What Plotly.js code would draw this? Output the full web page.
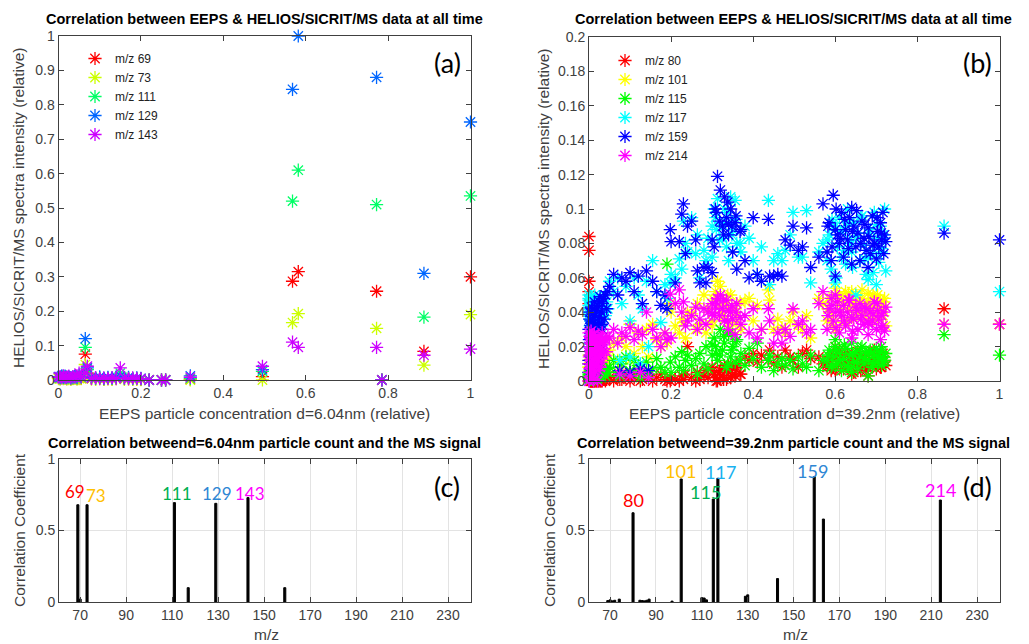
<!DOCTYPE html>
<html>
<head>
<meta charset="utf-8">
<script src="https://cdn.plot.ly/plotly-3.0.1.min.js"></script>
<style>html,body{margin:0;padding:0;background:#fff;}#chart{width:1029px;height:644px;}</style>
</head>
<body>
<div id="chart"></div>
<script>
// ---------------- Panel (a): d = 6.04 nm ----------------
const namesA = ['m/z 69', 'm/z 73', 'm/z 111', 'm/z 129', 'm/z 143'];
const xA = [0, 0.004, 0.008, 0.012, 0.016, 0.02, 0.025, 0.03, 0.035, 0.04, 0.045, 0.05, 0.055, 0.065, 0.07,
            0.08, 0.09, 0.1, 0.11, 0.12, 0.13, 0.14, 0.15, 0.16, 0.17, 0.18, 0.19, 0.2,
            0.22, 0.25, 0.26, 0.32, 0.495, 0.568, 0.582, 0.772, 0.785, 0.887, 1.0];
const mz69  = [0.006, 0.004, 0.008, 0.005, 0.007, 0.004, 0.006, 0.003, 0.005, 0.007, 0.004, 0.006, 0.005, 0.075, 0.02,
               0.004, 0.003, 0.005, 0.002, 0.004, 0.003, 0.005, 0.01, 0.003, 0.004, 0.002, 0.003, 0.002,
               0.0, 0.0, 0.0, 0.002, 0.01, 0.287, 0.315, 0.258, 0.0, 0.083, 0.3];
const mz73  = [0.004, 0.003, 0.006, 0.004, 0.005, 0.003, 0.004, 0.002, 0.004, 0.005, 0.003, 0.004, 0.004, 0.045, 0.015,
               0.003, 0.002, 0.004, 0.002, 0.003, 0.002, 0.004, 0.008, 0.002, 0.003, 0.002, 0.002, 0.001,
               0.0, 0.0, 0.0, 0.0, 0.0, 0.167, 0.193, 0.15, 0.0, 0.043, 0.19];
const mz111 = [0.008, 0.006, 0.01, 0.007, 0.009, 0.006, 0.008, 0.005, 0.007, 0.009, 0.006, 0.012, 0.008, 0.095, 0.03,
               0.006, 0.005, 0.007, 0.004, 0.006, 0.005, 0.007, 0.02, 0.005, 0.006, 0.004, 0.005, 0.004,
               0.0, 0.0, 0.0, 0.005, 0.025, 0.52, 0.61, 0.51, 0.0, 0.183, 0.535];
const mz129 = [0.01, 0.008, 0.012, 0.009, 0.011, 0.008, 0.01, 0.007, 0.009, 0.011, 0.008, 0.015, 0.01, 0.12, 0.035,
               0.008, 0.006, 0.009, 0.005, 0.008, 0.006, 0.009, 0.012, 0.006, 0.008, 0.005, 0.006, 0.005,
               0.0, 0.0, 0.0, 0.012, 0.03, 0.845, 1.0, 0.88, 0.0, 0.31, 0.75];
const mz143 = [0.008, 0.01, 0.006, 0.012, 0.007, 0.009, 0.011, 0.006, 0.01, 0.008, 0.012, 0.02, 0.009, 0.02, 0.04,
               0.005, 0.007, 0.004, 0.006, 0.005, 0.007, 0.004, 0.035, 0.006, 0.004, 0.006, 0.005, 0.004,
               0.0, 0.0, 0.0, 0.008, 0.04, 0.11, 0.095, 0.095, 0.0, 0.072, 0.09];
const seriesA = [mz69, mz73, mz111, mz129, mz143];
const colorsA = ['#ff0000', '#ccff00', '#00ff66', '#0066ff', '#cc00ff'];

// ---------------- Panel (b): d = 39.2 nm ----------------
const namesB = ['m/z 80', 'm/z 101', 'm/z 115', 'm/z 117', 'm/z 159', 'm/z 214'];
const xB = [
  0, 0, 0, 0, 0.002, 0.003, 0.004, 0.005, 0.006, 0.007, 0.008, 0.009, 0.01, 0.012, 0.014, 0.015, 0.017, 0.019, 0.02, 0.022,
  0.024, 0.026, 0.028, 0.03, 0.032, 0.035, 0.037, 0.04, 0.043, 0.046,
  0, 0.001, 0.002, 0.003, 0.004, 0.005, 0.006, 0.007, 0.008, 0.009, 0.01, 0.011, 0.012, 0.013, 0.014, 0.016, 0.018, 0.021,
  0.023, 0.025, 0.027, 0.029, 0.031, 0.033,
  0.05, 0.06, 0.07, 0.08, 0.09, 0.1, 0.11, 0.12, 0.13, 0.14, 0.155, 0.165, 0.175, 0.185, 0.19,
  0.075, 0.1, 0.125, 0.145,
  0.198, 0.2, 0.21, 0.22, 0.226, 0.23, 0.235, 0.24, 0.25, 0.26, 0.264, 0.27, 0.28, 0.285, 0.29, 0.3, 0.305, 0.313, 0.32,
  0.325, 0.33, 0.335, 0.34, 0.345, 0.35, 0.356, 0.36, 0.37, 0.38, 0.39, 0.4, 0.41, 0.42, 0.437, 0.44, 0.45, 0.46, 0.47,
  0.308, 0.318, 0.328, 0.338, 0.348, 0.358, 0.368, 0.3, 0.31, 0.34,
  0.478, 0.49, 0.497, 0.51, 0.52, 0.53, 0.54, 0.56, 0.57,
  0.58, 0.585, 0.59, 0.595, 0.6, 0.605, 0.61, 0.615, 0.62, 0.625, 0.63, 0.635, 0.64, 0.645, 0.65, 0.655, 0.66, 0.665,
  0.67, 0.675, 0.68, 0.685, 0.69, 0.695, 0.7, 0.703, 0.706, 0.71, 0.713, 0.716, 0.72, 0.723, 0.6, 0.64, 0.68,
  0.582, 0.592, 0.602, 0.612, 0.622, 0.632, 0.642, 0.652, 0.662, 0.672, 0.682, 0.692, 0.702, 0.712, 0.718,
  0.865, 1.0];
const mz80 = [
  0.084, 0.076, 0.058, 0.052, 0.001, 0, 0.002, 0, 0.001, 0, 0.002, 0, 0, 0.001, 0, 0.002, 0, 0.001, 0, 0.002,
  0, 0.001, 0, 0.003, 0, 0.001, 0.002, 0, 0.001, 0.003,
  0.045, 0.002, 0, 0.001, 0, 0.002, 0, 0.001, 0, 0.002, 0, 0.001, 0, 0.002, 0, 0.001, 0, 0.002,
  0, 0.001, 0, 0.002, 0, 0.001,
  0.002, 0, 0.003, 0.001, 0.004, 0, 0.002, 0.005, 0.001, 0.003, 0, 0.002, 0.004, 0.001, 0,
  0.001, 0.002, 0, 0.003,
  0, 0.002, 0.001, 0, 0.003, 0.001, 0.004, 0.02, 0.002, 0, 0.005, 0.001, 0.003, 0.006, 0.002, 0.008, 0.004, 0, 0.006,
  0.003, 0.009, 0.001, 0.005, 0.002, 0.007, 0.003, 0.01, 0.004, 0.014, 0.012, 0.016, 0.011, 0.015, 0.012, 0.018, 0.01, 0.014, 0.008,
  0.002, 0.005, 0.001, 0.007, 0.003, 0.008, 0.004, 0.006, 0.0, 0.009,
  0.018, 0.014, 0.012, 0.008, 0.016, 0.018, 0.013, 0.014, 0.01,
  0.008, 0.012, 0.006, 0.015, 0.006, 0.01, 0.018, 0.013, 0.007, 0.011, 0.016, 0.009, 0.014, 0.005, 0.012, 0.017, 0.008, 0.01,
  0.013, 0.006, 0.015, 0.009, 0.012, 0.018, 0.007, 0.01, 0.014, 0.008, 0.011, 0.016, 0.012, 0.009, 0.02, 0.004, 0.003,
  0.01, 0.014, 0.007, 0.012, 0.016, 0.008, 0.011, 0.015, 0.006, 0.013, 0.009, 0.017, 0.012, 0.008, 0.014,
  0.042, 0.033];
const mz101 = [
  0.01, 0.008, 0.012, 0.015, 0.005, 0.003, 0.008, 0.006, 0.01, 0.004, 0.007, 0.012, 0.006, 0.009, 0.005, 0.011, 0.007, 0.004, 0.01, 0.008,
  0.006, 0.012, 0.009, 0.005, 0.011, 0.008, 0.013, 0.01, 0.012, 0.015,
  0.008, 0.012, 0.006, 0.01, 0.014, 0.007, 0.011, 0.005, 0.013, 0.009, 0.006, 0.012, 0.008, 0.015, 0.01, 0.007, 0.013, 0.009,
  0.011, 0.006, 0.014, 0.01, 0.012, 0.016,
  0.018, 0.022, 0.012, 0.025, 0.02, 0.033, 0.016, 0.028, 0.02, 0.03, 0.033, 0.024, 0.02, 0.028, 0.022,
  0.01, 0.012, 0.008, 0.014,
  0.045, 0.04, 0.032, 0.028, 0.036, 0.034, 0.025, 0.04, 0.039, 0.03, 0.045, 0.033, 0.05, 0.028, 0.042, 0.035, 0.047, 0.058, 0.055,
  0.04, 0.036, 0.045, 0.032, 0.05, 0.028, 0.042, 0.038, 0.03, 0.046, 0.048, 0.035, 0.044, 0.03, 0.053, 0.047, 0.03, 0.036, 0.031,
  0.052, 0.044, 0.038, 0.05, 0.041, 0.034, 0.046, 0.032, 0.048, 0.043,
  0.028, 0.035, 0.04, 0.032, 0.03, 0.038, 0.025, 0.048, 0.045,
  0.035, 0.048, 0.04, 0.032, 0.054, 0.044, 0.05, 0.038, 0.046, 0.052, 0.042, 0.036, 0.048, 0.044, 0.05, 0.04, 0.046, 0.053,
  0.038, 0.044, 0.051, 0.042, 0.048, 0.036, 0.045, 0.05, 0.04, 0.047, 0.043, 0.038, 0.048, 0.032, 0.03, 0.052, 0.046,
  0.042, 0.036, 0.049, 0.04, 0.034, 0.051, 0.045, 0.037, 0.048, 0.041, 0.035, 0.05, 0.043, 0.039, 0.046,
  0.033, 0.033];
const mz115 = [
  0.003, 0.002, 0.004, 0.005, 0.001, 0.002, 0.003, 0.001, 0.004, 0.002, 0.003, 0.005, 0.002, 0.003, 0.001, 0.004, 0.002, 0.003, 0.005, 0.002,
  0.004, 0.003, 0.006, 0.002, 0.005, 0.004, 0.006, 0.003, 0.007, 0.005,
  0.002, 0.004, 0.001, 0.003, 0.005, 0.002, 0.004, 0.001, 0.003, 0.006, 0.002, 0.004, 0.003, 0.005, 0.002, 0.006, 0.003, 0.005,
  0.004, 0.007, 0.003, 0.006, 0.008, 0.005,
  0.008, 0.012, 0.005, 0.01, 0.014, 0.006, 0.012, 0.009, 0.004, 0.011, 0.007, 0.013, 0.008, 0.005, 0.068,
  0.003, 0.005, 0.002, 0.004,
  0.011, 0.005, 0.014, 0.008, 0.017, 0.006, 0.012, 0.015, 0.009, 0.013, 0.004, 0.016, 0.01, 0.02, 0.007, 0.015, 0.025, 0.012, 0.03,
  0.018, 0.022, 0.008, 0.027, 0.014, 0.02, 0.011, 0.024, 0.016, 0.009, 0.019, 0.013, 0.022, 0.008, 0.012, 0.015, 0.006, 0.01, 0.013,
  0.02, 0.015, 0.026, 0.01, 0.018, 0.023, 0.012, 0.021, 0.016, 0.028,
  0.009, 0.012, 0.007, 0.014, 0.01, 0.008, 0.015, 0.006, 0.012,
  0.012, 0.018, 0.008, 0.014, 0.02, 0.01, 0.016, 0.006, 0.013, 0.019, 0.009, 0.015, 0.022, 0.011, 0.017, 0.007, 0.014, 0.02,
  0.01, 0.016, 0.012, 0.018, 0.008, 0.015, 0.019, 0.011, 0.013, 0.017, 0.009, 0.014, 0.012, 0.016, 0.024, 0.005, 0.003,
  0.015, 0.009, 0.018, 0.012, 0.021, 0.008, 0.016, 0.011, 0.019, 0.013, 0.017, 0.01, 0.014, 0.02, 0.011,
  0.027, 0.015];
const mz117 = [
  0.05, 0.047, 0.044, 0.04, 0.036, 0.032, 0.038, 0.045, 0.03, 0.042, 0.034, 0.028, 0.04, 0.036, 0.044, 0.03, 0.038, 0.042, 0.034, 0.046,
  0.04, 0.036, 0.048, 0.032, 0.044, 0.04, 0.05, 0.038, 0.046, 0.042,
  0.048, 0.043, 0.039, 0.046, 0.035, 0.049, 0.041, 0.037, 0.045, 0.033, 0.047, 0.04, 0.036, 0.044, 0.05, 0.038, 0.042, 0.047,
  0.035, 0.043, 0.039, 0.046, 0.041, 0.037,
  0.058, 0.052, 0.06, 0.045, 0.055, 0.035, 0.06, 0.05, 0.042, 0.058, 0.07, 0.052, 0.034, 0.056, 0.048,
  0.012, 0.014, 0.01, 0.02,
  0.057, 0.062, 0.06, 0.071, 0.065, 0.093, 0.08, 0.075, 0.095, 0.074, 0.085, 0.06, 0.076, 0.07, 0.083, 0.09, 0.1, 0.106, 0.092,
  0.083, 0.1, 0.078, 0.07, 0.107, 0.088, 0.105, 0.08, 0.075, 0.09, 0.083, 0.07, 0.062, 0.078, 0.105, 0.056, 0.07, 0.074, 0.07,
  0.095, 0.082, 0.09, 0.098, 0.085, 0.094, 0.08, 0.072, 0.088, 0.092,
  0.076, 0.085, 0.098, 0.072, 0.072, 0.099, 0.057, 0.075, 0.08,
  0.07, 0.085, 0.065, 0.09, 0.057, 0.078, 0.095, 0.072, 0.088, 0.068, 0.1, 0.082, 0.075, 0.092, 0.05, 0.086, 0.07, 0.096,
  0.079, 0.062, 0.059, 0.088, 0.074, 0.098, 0.056, 0.083, 0.069, 0.09, 0.077, 0.085, 0.1, 0.064, 0.09, 0.08, 0.072,
  0.082, 0.094, 0.06, 0.087, 0.076, 0.092, 0.066, 0.084, 0.095, 0.071, 0.086, 0.063, 0.091, 0.075, 0.083,
  0.09, 0.052];
const mz159 = [
  0.03, 0.02, 0.01, 0.005, 0.04, 0.015, 0.025, 0.035, 0.008, 0.028, 0.018, 0.042, 0.012, 0.032, 0.022, 0.038, 0.006, 0.026, 0.044, 0.016,
  0.034, 0.046, 0.02, 0.04, 0.03, 0.048, 0.036, 0.05, 0.042, 0.052,
  0.012, 0.024, 0.036, 0.007, 0.019, 0.031, 0.043, 0.014, 0.027, 0.039, 0.009, 0.022, 0.034, 0.046, 0.017, 0.029, 0.041, 0.011,
  0.024, 0.037, 0.049, 0.021, 0.033, 0.045,
  0.055, 0.062, 0.05, 0.06, 0.058, 0.063, 0.052, 0.061, 0.045, 0.064, 0.058, 0.052, 0.044, 0.05, 0.042,
  0.006, 0.005, 0.007, 0.006,
  0.088, 0.081, 0.057, 0.081, 0.097, 0.103, 0.074, 0.09, 0.093, 0.082, 0.064, 0.057, 0.066, 0.057, 0.066, 0.063, 0.078, 0.119, 0.111,
  0.09, 0.107, 0.095, 0.085, 0.1, 0.075, 0.092, 0.065, 0.088, 0.07, 0.06, 0.095, 0.062, 0.058, 0.094, 0.061, 0.061, 0.062, 0.061,
  0.1, 0.093, 0.085, 0.104, 0.09, 0.096, 0.087, 0.082, 0.098, 0.091,
  0.082, 0.079, 0.09, 0.076, 0.078, 0.089, 0.066, 0.072, 0.103,
  0.075, 0.092, 0.07, 0.108, 0.061, 0.085, 0.08, 0.098, 0.072, 0.088, 0.082, 0.095, 0.068, 0.09, 0.078, 0.086, 0.07, 0.093,
  0.083, 0.076, 0.089, 0.074, 0.096, 0.08, 0.071, 0.087, 0.078, 0.092, 0.082, 0.098, 0.085, 0.081, 0.088, 0.101, 0.066,
  0.09, 0.078, 0.1, 0.083, 0.094, 0.077, 0.087, 0.099, 0.08, 0.091, 0.084, 0.079, 0.095, 0.086, 0.074,
  0.086, 0.082];
const mz214 = [
  0.0, 0.01, 0.02, 0.028, 0.005, 0.015, 0.025, 0.002, 0.018, 0.008, 0.022, 0.012, 0.027, 0.004, 0.016, 0.024, 0.009, 0.02, 0.013, 0.026,
  0.006, 0.018, 0.023, 0.011, 0.028, 0.015, 0.021, 0.024, 0.017, 0.026,
  0.0, 0.014, 0.026, 0.007, 0.019, 0.029, 0.003, 0.016, 0.024, 0.01, 0.021, 0.0, 0.013, 0.027, 0.006, 0.018, 0.023, 0.0,
  0.012, 0.025, 0.008, 0.019, 0.015, 0.022,
  0.025, 0.03, 0.022, 0.028, 0.026, 0.031, 0.024, 0.029, 0.027, 0.04, 0.03, 0.025, 0.02, 0.028, 0.024,
  0.004, 0.003, 0.005, 0.002,
  0.0505, 0.025, 0.045, 0.053, 0.04, 0.046, 0.032, 0.035, 0.038, 0.043, 0.03, 0.036, 0.042, 0.033, 0.04, 0.045, 0.038, 0.048, 0.05,
  0.042, 0.035, 0.047, 0.03, 0.04, 0.036, 0.027, 0.045, 0.033, 0.038, 0.028, 0.042, 0.025, 0.03, 0.042, 0.035, 0.022, 0.028, 0.022,
  0.043, 0.038, 0.047, 0.035, 0.044, 0.04, 0.037, 0.039, 0.046, 0.041,
  0.03, 0.026, 0.042, 0.033, 0.035, 0.028, 0.03, 0.045, 0.052,
  0.03, 0.042, 0.048, 0.035, 0.04, 0.046, 0.028, 0.038, 0.044, 0.032, 0.04, 0.047, 0.025, 0.036, 0.043, 0.03, 0.045, 0.038,
  0.033, 0.042, 0.027, 0.04, 0.035, 0.046, 0.03, 0.041, 0.036, 0.024, 0.038, 0.032, 0.029, 0.043, 0.05, 0.037, 0.034,
  0.038, 0.044, 0.031, 0.04, 0.035, 0.047, 0.029, 0.041, 0.036, 0.043, 0.033, 0.039, 0.045, 0.031, 0.04,
  0.033, 0.033];
const seriesB = [mz80, mz101, mz115, mz117, mz159, mz214];
const colorsB = ['#ff0000', '#ffff00', '#00ff00', '#00ffff', '#0000ff', '#ff00ff'];

// ---------------- Panel (c): correlation d = 6.04 nm ----------------
const mzC   = [69, 70, 73, 111, 117, 129, 143, 159];
const corrC = [0.68, 0.02, 0.68, 0.695, 0.1, 0.69, 0.73, 0.1];
const labelsC = ['69', '73', '111', '129', '143'];
const labelPosC = [[67.6, 0.775], [77.0, 0.745], [112, 0.76], [129.5, 0.76], [143.9, 0.76]];
const labelColC = ['#ff0000', '#ffc000', '#00b050', '#2e86d4', '#ff00ff'];

// ---------------- Panel (d): correlation d = 39.2 nm ----------------
const mzD   = [69, 70, 71, 72, 74, 80, 83, 84, 85, 86, 87, 97, 101, 110, 111, 112, 115, 117, 129, 130, 143, 159, 163, 214];
const corrD = [0.01, 0.015, 0.008, 0.012, 0.02, 0.624, 0.012, 0.01, 0.008, 0.012, 0.02, 0.006, 0.86, 0.03, 0.028, 0.015,
               0.72, 0.865, 0.04, 0.05, 0.164, 0.876, 0.58, 0.713];
const labelsD = ['80', '101', '115', '117', '159', '214'];
const labelPosD = [[80.4, 0.71], [100.9, 0.915], [111.8, 0.77], [118.3, 0.91], [158.1, 0.915], [213.9, 0.78]];
const labelColD = ['#ff0000', '#ffc000', '#00b050', '#1ab2f0', '#2e86d4', '#ff00ff'];

// ---------------- helpers ----------------
const W = 1029, H = 644;
const px = v => v / W;
const py = v => 1 - v / H;
const TXT = '#404040';
const FONT = 'Liberation Sans, Arial, sans-serif';

const traces = [];
seriesA.forEach((ys, i) => traces.push({
  type: 'scatter', mode: 'markers', x: xA, y: ys, name: namesA[i], xaxis: 'x', yaxis: 'y', legend: 'legend',
  cliponaxis: false,
  marker: {symbol: 'asterisk-open', size: 11, color: colorsA[i], line: {color: colorsA[i], width: 1.3}}
}));
seriesB.forEach((ys, i) => traces.push({
  type: 'scatter', mode: 'markers', x: xB, y: ys, name: namesB[i], xaxis: 'x2', yaxis: 'y2', legend: 'legend2',
  cliponaxis: false,
  marker: {symbol: 'asterisk-open', size: 11, color: colorsB[i], line: {color: colorsB[i], width: 1.3}}
}));
traces.push({type: 'bar', x: mzC, y: corrC, xaxis: 'x3', yaxis: 'y3', showlegend: false, width: 0.9,
  marker: {color: '#000', line: {color: '#000', width: 1}}});
traces.push({type: 'bar', x: mzD, y: corrD, xaxis: 'x4', yaxis: 'y4', showlegend: false, width: 0.9,
  marker: {color: '#000', line: {color: '#000', width: 1}}});

function axisBase(extra) {
  return Object.assign({
    showline: true, linecolor: '#404040', linewidth: 1, mirror: 'ticks', ticks: 'inside', ticklen: 5,
    tickcolor: '#404040', zeroline: false, showgrid: false,
    tickfont: {family: FONT, size: 14, color: TXT}, fixedrange: true
  }, extra);
}

const layout = {
  width: W, height: H, margin: {l: 0, r: 0, t: 0, b: 0},
  paper_bgcolor: '#fff', plot_bgcolor: '#fff', showlegend: true, bargap: 0,
  xaxis:  axisBase({domain: [px(58.5), px(470.5)], range: [0, 1], dtick: 0.2, tick0: 0, anchor: 'y'}),
  yaxis:  axisBase({domain: [py(380), py(36)], range: [0, 1], dtick: 0.1, tick0: 0, anchor: 'x'}),
  xaxis2: axisBase({domain: [px(589), px(999.5)], range: [0, 1], dtick: 0.2, tick0: 0, anchor: 'y2'}),
  yaxis2: axisBase({domain: [py(381), py(37)], range: [0, 0.2], dtick: 0.02, tick0: 0, anchor: 'x2'}),
  xaxis3: axisBase({domain: [px(59), px(471)], range: [60.8, 240], dtick: 20, tick0: 70, anchor: 'y3',
                    showgrid: true, gridcolor: '#e3e3e3'}),
  yaxis3: axisBase({domain: [py(602), py(459)], range: [0, 1], dtick: 0.5, tick0: 0, anchor: 'x3',
                    showgrid: true, gridcolor: '#e3e3e3'}),
  xaxis4: axisBase({domain: [px(589), px(1000)], range: [60.8, 240], dtick: 20, tick0: 70, anchor: 'y4',
                    showgrid: true, gridcolor: '#e3e3e3'}),
  yaxis4: axisBase({domain: [py(602), py(459)], range: [0, 1], dtick: 0.5, tick0: 0, anchor: 'x4',
                    showgrid: true, gridcolor: '#e3e3e3'}),
  legend:  {x: px(75), y: py(44), xanchor: 'left', yanchor: 'top', bgcolor: 'rgba(0,0,0,0)', borderwidth: 0,
            font: {family: FONT, size: 12, color: '#222'}, tracegroupgap: 0},
  legend2: {x: px(605), y: py(46), xanchor: 'left', yanchor: 'top', bgcolor: 'rgba(0,0,0,0)', borderwidth: 0,
            font: {family: FONT, size: 12, color: '#222'}, tracegroupgap: 0},
  annotations: []
};

const ann = layout.annotations;
function paperText(text, x, y, opts) {
  ann.push(Object.assign({text: text, xref: 'paper', yref: 'paper', x: px(x), y: py(y), showarrow: false,
    xanchor: 'center', yanchor: 'middle', font: {family: FONT, size: 15.5, color: TXT}}, opts || {}));
}
// titles
const titleFont = {family: FONT, size: 14.5, color: '#000'};
paperText('<b>Correlation between EEPS &amp; HELIOS/SICRIT/MS data at all time</b>', 264, 19.5, {font: titleFont});
paperText('<b>Correlation between EEPS &amp; HELIOS/SICRIT/MS data at all time</b>', 793, 19.5, {font: titleFont});
paperText('<b>Correlation betweend=6.04nm particle count and the MS signal</b>', 264, 443, {font: titleFont});
paperText('<b>Correlation betweend=39.2nm particle count and the MS signal</b>', 793, 443, {font: titleFont});
// axis titles
paperText('EEPS particle concentration d=6.04nm (relative)', 264, 413);
paperText('EEPS particle concentration d=39.2nm (relative)', 794, 413);
paperText('m/z', 266, 634);
paperText('m/z', 795, 634);
paperText('HELIOS/SICRIT/MS spectra intensity (relative)', 19, 208, {textangle: -90});
paperText('HELIOS/SICRIT/MS spectra intensity (relative)', 544, 209, {textangle: -90});
paperText('Correlation Coefficient', 19, 530, {textangle: -90});
paperText('Correlation Coefficient', 549, 530, {textangle: -90});
// panel letters
const letterFont = {family: 'Lato, Open Sans, sans-serif', size: 27, color: '#000'};
paperText('(a)', 447, 62, {font: letterFont});
paperText('(b)', 977, 62, {font: letterFont});
paperText('(c)', 447, 486, {font: letterFont});
paperText('(d)', 977, 486, {font: letterFont});
// colored m/z labels
labelsC.forEach((t, i) => ann.push({text: t, xref: 'x3', yref: 'y3', x: labelPosC[i][0], y: labelPosC[i][1],
  showarrow: false, xanchor: 'center', yanchor: 'middle', borderpad: 0,
  font: {family: 'Lato, sans-serif', size: 17, color: labelColC[i]}}));
labelsD.forEach((t, i) => ann.push({text: t, xref: 'x4', yref: 'y4', x: labelPosD[i][0], y: labelPosD[i][1],
  showarrow: false, xanchor: 'center', yanchor: 'middle', borderpad: 0,
  font: {family: 'Lato, sans-serif', size: 18, color: labelColD[i]}}));

Plotly.newPlot('chart', traces, layout, {displayModeBar: false, staticPlot: true});
</script>
</body>
</html>
